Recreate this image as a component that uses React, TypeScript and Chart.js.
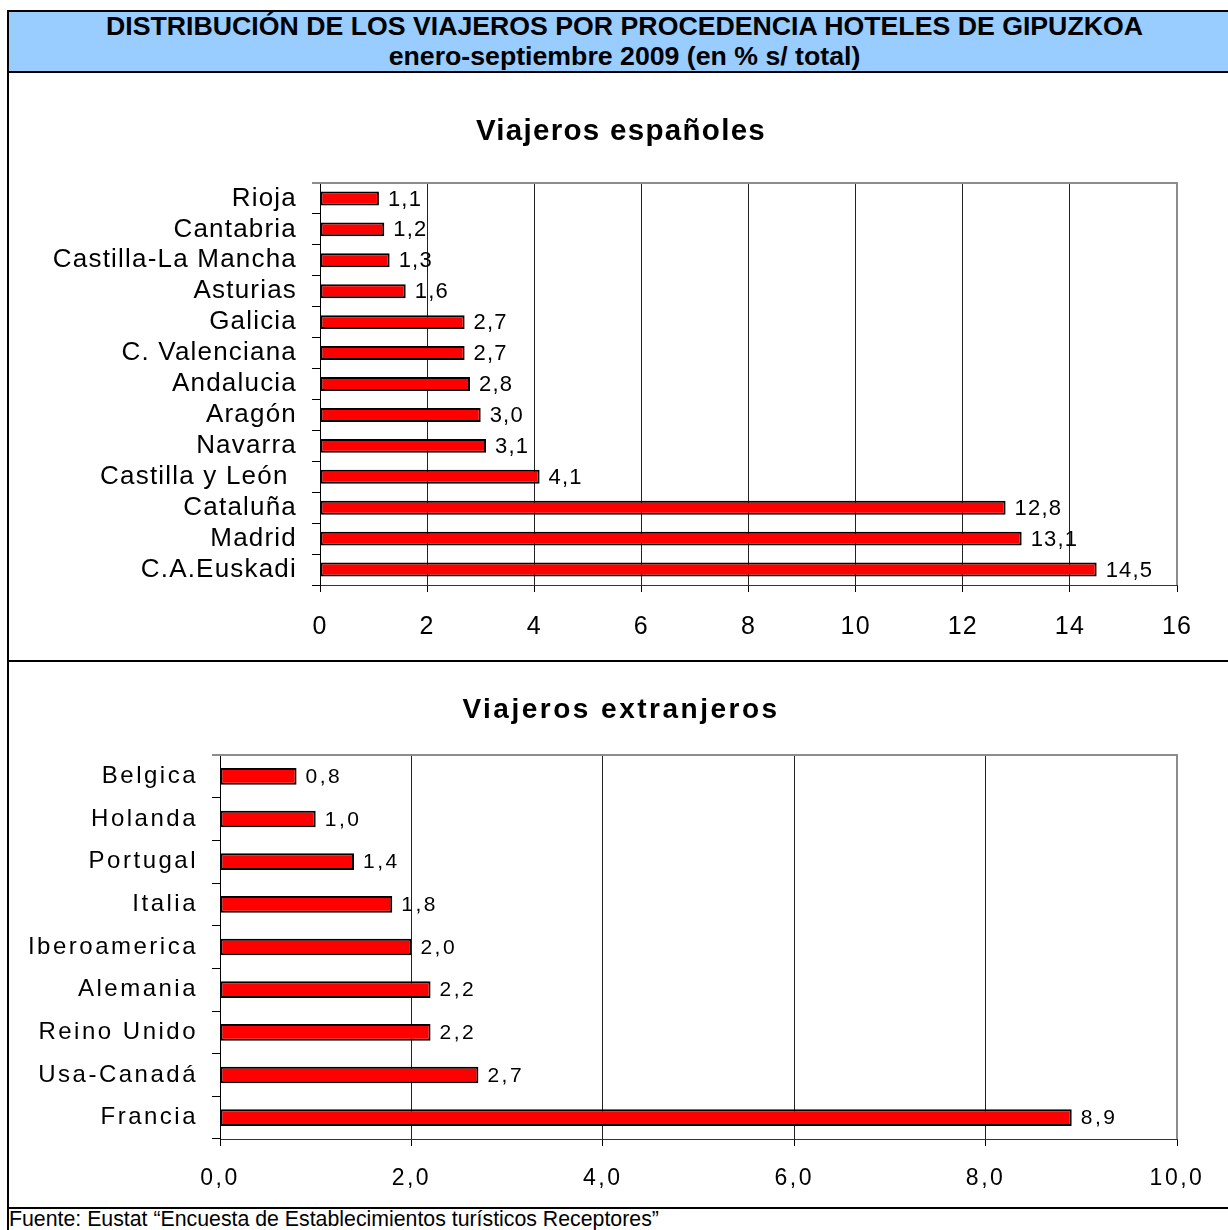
import React, { useEffect, useRef } from 'react';
import { Chart, registerables } from 'chart.js';

Chart.register(...registerables);

const FONT = '"Liberation Sans", Arial, Helvetica, sans-serif';

// ---- Data ----
const headerLine1 = 'DISTRIBUCIÓN DE LOS VIAJEROS POR PROCEDENCIA HOTELES DE GIPUZKOA';
const headerLine2 = 'enero-septiembre 2009 (en % s/ total)';
const footerText = 'Fuente: Eustat \u201CEncuesta de Establecimientos turísticos Receptores\u201D';

const spanishTitle = 'Viajeros españoles';
const spanishCategories = [
  'Rioja',
  'Cantabria',
  'Castilla-La Mancha',
  'Asturias',
  'Galicia',
  'C. Valenciana',
  'Andalucia',
  'Aragón',
  'Navarra',
  'Castilla y León ',
  'Cataluña',
  'Madrid',
  'C.A.Euskadi',
];
const spanishValues = [1.1, 1.2, 1.3, 1.6, 2.7, 2.7, 2.8, 3.0, 3.1, 4.1, 12.8, 13.1, 14.5];
const spanishAxisMin = 0;
const spanishAxisMax = 16;
const spanishAxisStep = 2;

const foreignTitle = 'Viajeros extranjeros';
const foreignCategories = [
  'Belgica',
  'Holanda',
  'Portugal',
  'Italia',
  'Iberoamerica',
  'Alemania',
  'Reino Unido',
  'Usa-Canadá',
  'Francia',
];
const foreignValues = [0.8, 1.0, 1.4, 1.8, 2.0, 2.2, 2.2, 2.7, 8.9];
const foreignAxisMin = 0;
const foreignAxisMax = 10;
const foreignAxisStep = 2;

const fmtInt = (v: number) => String(v);
const fmtDec = (v: number) => v.toFixed(1).replace('.', ',');

type Cfg = {
  labels: string[];
  values: number[];
  min: number;
  max: number;
  step: number;
  tickFmt: (v: number) => string;
  spacing: string;
  topPad: number;
  xHeight: number;
  yWidth: number;
  rightPad: number;
  xTickSize: number;
  xTickPad: number;
  yTickSize: number;
  yTickPad: number;
  labelSize: number;
  barPct: number;
};

function makeChart(canvas: HTMLCanvasElement, cfg: Cfg) {
  const spacingPlugin = {
    id: 'spacing',
    beforeUpdate(chart: any) {
      chart.ctx.letterSpacing = cfg.spacing;
    },
    beforeLayout(chart: any) {
      chart.ctx.letterSpacing = cfg.spacing;
    },
    beforeDraw(chart: any) {
      chart.ctx.letterSpacing = cfg.spacing;
    },
  };
  const framePlugin = {
    id: 'frame',
    afterDatasetsDraw(chart: any) {
      const { ctx, chartArea } = chart;
      ctx.save();
      ctx.strokeStyle = '#8c8c8c';
      ctx.lineWidth = 2;
      ctx.beginPath();
      ctx.moveTo(chartArea.left - 8, chartArea.top);
      ctx.lineTo(chartArea.right, chartArea.top);
      ctx.lineTo(chartArea.right, chartArea.bottom);
      ctx.stroke();
      // value labels
      ctx.letterSpacing = cfg.spacing;
      ctx.fillStyle = '#000';
      ctx.font = `${cfg.labelSize}px ${FONT}`;
      ctx.textAlign = 'left';
      ctx.textBaseline = 'middle';
      const meta = chart.getDatasetMeta(0);
      meta.data.forEach((el: any, i: number) => {
        const p = el.getProps(['x', 'y'], true);
        ctx.fillText(fmtDec(cfg.values[i]), p.x + 9, p.y + 1);
      });
      ctx.restore();
    },
  };

  return new Chart(canvas, {
    type: 'bar',
    data: {
      labels: cfg.labels,
      datasets: [
        {
          data: cfg.values,
          backgroundColor: '#ff0000',
          borderColor: '#000000',
          borderWidth: 2,
          borderSkipped: false,
          barPercentage: cfg.barPct,
          categoryPercentage: 1,
        },
      ],
    },
    options: {
      indexAxis: 'y',
      responsive: false,
      animation: false,
      layout: { padding: { left: 0, right: cfg.rightPad, top: cfg.topPad, bottom: 0 } },
      plugins: {
        legend: { display: false },
        tooltip: { enabled: false },
        title: { display: false },
      },
      scales: {
        x: {
          type: 'linear',
          min: cfg.min,
          max: cfg.max,
          ticks: {
            stepSize: cfg.step,
            color: '#000',
            font: { family: FONT, size: cfg.xTickSize },
            padding: cfg.xTickPad,
            callback: (v: any) => cfg.tickFmt(Number(v)),
          },
          grid: {
            color: (c: any) => (c.tick && c.tick.value === cfg.max ? 'rgba(0,0,0,0)' : '#222'),
            tickColor: '#000',
            tickLength: 7,
            lineWidth: 1,
          },
          border: { color: '#333', width: 1 },
          afterFit: (s: any) => {
            s.height = cfg.xHeight;
          },
        },
        y: {
          ticks: {
            color: '#000',
            font: { family: FONT, size: cfg.yTickSize },
            padding: cfg.yTickPad,
            autoSkip: false,
          },
          grid: {
            drawOnChartArea: false,
            tickLength: 8,
            tickColor: '#000',
            offset: true,
          },
          border: { color: '#000', width: 1 },
          afterFit: (s: any) => {
            s.width = cfg.yWidth;
          },
        },
      },
    } as any,
    plugins: [spacingPlugin, framePlugin],
  });
}

export default function App() {
  const c1 = useRef<HTMLCanvasElement>(null);
  const c2 = useRef<HTMLCanvasElement>(null);

  useEffect(() => {
    Chart.defaults.font.family = FONT;
    Chart.defaults.color = '#000';
    const ch1 = makeChart(c1.current!, {
      labels: spanishCategories,
      values: spanishValues,
      min: spanishAxisMin,
      max: spanishAxisMax,
      step: spanishAxisStep,
      tickFmt: fmtInt,
      spacing: '1.2px',
      topPad: 109,
      xHeight: 73,
      yWidth: 310,
      rightPad: 51,
      xTickSize: 25,
      xTickPad: 20,
      yTickSize: 26,
      yTickPad: 15,
      labelSize: 22,
      barPct: 0.45,
    });
    const ch2 = makeChart(c2.current!, {
      labels: foreignCategories,
      values: foreignValues,
      min: foreignAxisMin,
      max: foreignAxisMax,
      step: foreignAxisStep,
      tickFmt: fmtDec,
      spacing: '2.5px',
      topPad: 93,
      xHeight: 66,
      yWidth: 210,
      rightPad: 51,
      xTickSize: 23,
      xTickPad: 19,
      yTickSize: 24,
      yTickPad: 14,
      labelSize: 21,
      barPct: 0.39,
    });
    return () => {
      ch1.destroy();
      ch2.destroy();
    };
  }, []);

  const line = (left: number, top: number, width: number, height: number): React.CSSProperties => ({
    position: 'absolute',
    left,
    top,
    width,
    height,
    background: '#000',
  });

  const headerStyle = (top: number): React.CSSProperties => ({
    position: 'absolute',
    left: 9,
    width: 1231,
    top,
    lineHeight: '30px',
    fontSize: 26.7,
    fontWeight: 'bold',
    textAlign: 'center',
    whiteSpace: 'nowrap',
  });

  return (
    <div
      style={{
        position: 'absolute',
        left: 0,
        top: 0,
        width: 1228,
        height: 1230,
        overflow: 'hidden',
        background: '#fff',
        fontFamily: FONT,
        color: '#000',
      }}
    >
      <div style={{ position: 'absolute', left: 9, top: 12, width: 1240, height: 59, background: '#99ccff' }} />
      <div style={line(7, 10, 1240, 2)} />
      <div style={line(7, 71, 1240, 2)} />
      <div style={line(7, 660, 1240, 2)} />
      <div style={line(7, 1207, 1240, 2)} />
      <div style={line(7, 10, 2, 1230)} />
      <div style={headerStyle(11)}>{headerLine1}</div>
      <div style={headerStyle(41)}>{headerLine2}</div>
      <canvas
        ref={c1}
        width={1218}
        height={584}
        style={{ position: 'absolute', left: 10, top: 74, display: 'block' }}
      />
      <canvas
        ref={c2}
        width={1218}
        height={543}
        style={{ position: 'absolute', left: 10, top: 662, display: 'block' }}
      />
      <div
        style={{
          position: 'absolute',
          left: 10,
          width: 1222,
          top: 113,
          lineHeight: '34px',
          fontSize: 29.5,
          fontWeight: 'bold',
          letterSpacing: '1.3px',
          textAlign: 'center',
          whiteSpace: 'nowrap',
        }}
      >
        {spanishTitle}
      </div>
      <div
        style={{
          position: 'absolute',
          left: 10,
          width: 1222,
          top: 692,
          lineHeight: '34px',
          fontSize: 28,
          fontWeight: 'bold',
          letterSpacing: '2.5px',
          textAlign: 'center',
          whiteSpace: 'nowrap',
        }}
      >
        {foreignTitle}
      </div>
      <div
        style={{
          position: 'absolute',
          left: 9,
          top: 1206.5,
          lineHeight: '24px',
          fontSize: 21.3,
          whiteSpace: 'nowrap',
        }}
      >
        {footerText}
      </div>
    </div>
  );
}
